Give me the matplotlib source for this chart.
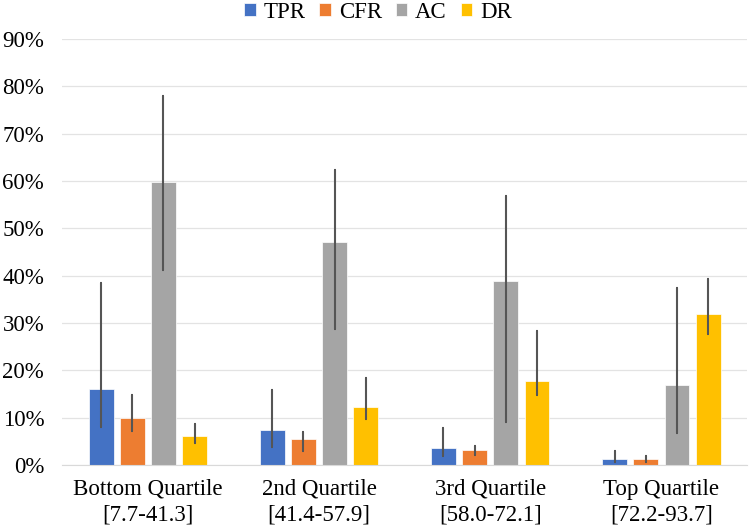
import numpy as np
import matplotlib
matplotlib.use('Agg')
import matplotlib.pyplot as plt
from matplotlib.ticker import PercentFormatter

plt.rcParams['font.family'] = ['Liberation Serif', 'DejaVu Serif']

categories = ['Bottom Quartile\n[7.7-41.3]', '2nd Quartile\n[41.4-57.9]',
              '3rd Quartile\n[58.0-72.1]', 'Top Quartile\n[72.2-93.7]']
series = ['TPR', 'CFR', 'AC', 'DR']

# valori medi e estremi delle barre di errore (in %)
tpr = [16.0, 7.3, 3.5, 1.2]
tpr_hi = [38.4, 15.9, 7.8, 3.0]
tpr_lo = [8.1, 3.7, 1.8, 0.6]

cfr = [9.9, 5.5, 3.1, 1.3]
cfr_hi = [14.7, 6.9, 4.1, 1.9]
cfr_lo = [7.2, 3.0, 2.0, 0.6]

ac = [59.8, 47.0, 38.8, 16.8]
ac_hi = [77.9, 62.4, 56.8, 37.4]
ac_lo = [41.2, 28.7, 9.0, 6.7]

dr = [6.1, 12.3, 17.8, 31.9]
dr_hi = [8.7, 18.3, 28.2, 39.3]
dr_lo = [4.6, 9.7, 14.7, 27.6]

colori = ['#4472C4', '#ED7D31', '#A5A5A5', '#FFC000']

valori = [tpr, cfr, ac, dr]
alti = [tpr_hi, cfr_hi, ac_hi, dr_hi]
bassi = [tpr_lo, cfr_lo, ac_lo, dr_lo]

fig = plt.figure(figsize=(7.5, 5.32), dpi=100)
ax = fig.add_axes([0.083, 0.126, 0.913, 0.801])

x = np.arange(len(categories))
larghezza = 0.145
passo = 0.182

for i, nome in enumerate(series):
    v = np.array(valori[i]) / 100
    hi = np.array(alti[i]) / 100
    lo = np.array(bassi[i]) / 100
    pos = x + (i - 1.5) * passo
    ax.bar(pos, v, width=larghezza, color=colori[i], label=nome,
           edgecolor='white', linewidth=0.5, zorder=2)
    ax.errorbar(pos, v, yerr=[v - lo, hi - v], fmt='none', ecolor='#555555',
                elinewidth=1.5, capsize=1, capthick=1.5, zorder=3)

ax.set_xlim(-0.5, len(categories) - 0.5)
ax.set_ylim(0, 0.9)
ax.set_yticks(np.arange(0, 0.91, 0.1))
ax.yaxis.set_major_formatter(PercentFormatter(1.0, decimals=0))
ax.set_xticks(x)
ax.set_xticklabels(categories, fontsize=16.5, linespacing=1.3)
ax.tick_params(axis='y', labelsize=16.5, length=0, pad=13)
ax.tick_params(axis='x', length=0, pad=10)

ax.grid(axis='y', color='#E3E3E3', linewidth=0.9, zorder=0)
ax.set_axisbelow(True)
for s in ['top', 'right', 'left']:
    ax.spines[s].set_visible(False)
ax.spines['bottom'].set_color('#D9D9D9')

fig.legend(loc='upper center', bbox_to_anchor=(0.504, 1.035), ncol=4, frameon=False,
           fontsize=16.5, handlelength=0.5, handleheight=0.5, handletextpad=0.35,
           columnspacing=0.6)

fig.savefig('out.png', dpi=100)
